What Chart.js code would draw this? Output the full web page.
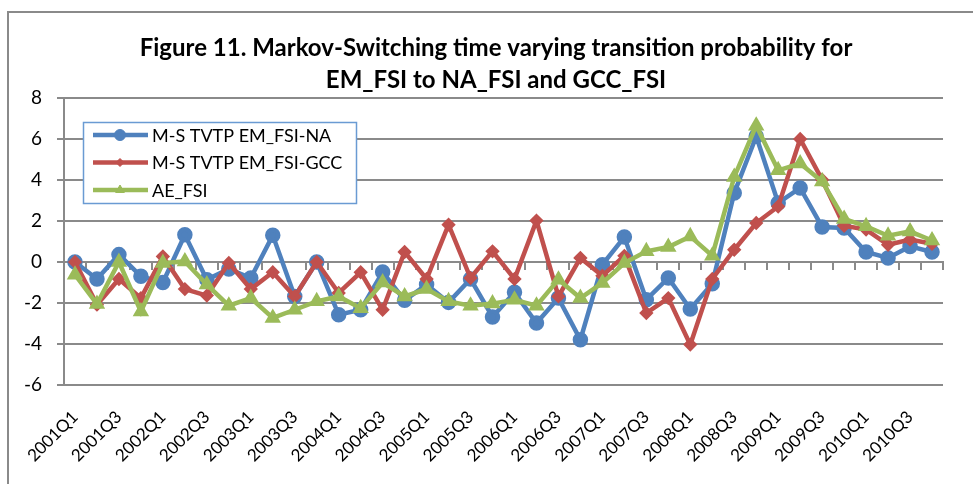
<!DOCTYPE html>
<html>
<head>
<meta charset="utf-8">
<script src="https://cdn.jsdelivr.net/npm/chart.js@4"></script>
<style>
  html, body { margin: 0; padding: 0; background: #fff; overflow: hidden; }
  #wrap { position: relative; width: 973px; height: 484px; overflow: hidden; }
  #frame { position: absolute; left: 7px; top: 11px; width: 1000px; height: 500px; border: 2px solid #8a8a8a; box-sizing: border-box; }
  canvas { position: absolute; left: 0; top: 0; }
</style>
</head>
<body>
<div id="wrap">
  <div id="frame"></div>
  <canvas id="chart" width="973" height="484"></canvas>
</div>
<script>
const quarters = [
  '2001Q1', '2001Q2', '2001Q3', '2001Q4', '2002Q1', '2002Q2', '2002Q3', '2002Q4',
  '2003Q1', '2003Q2', '2003Q3', '2003Q4', '2004Q1', '2004Q2', '2004Q3', '2004Q4',
  '2005Q1', '2005Q2', '2005Q3', '2005Q4', '2006Q1', '2006Q2', '2006Q3', '2006Q4',
  '2007Q1', '2007Q2', '2007Q3', '2007Q4', '2008Q1', '2008Q2', '2008Q3', '2008Q4',
  '2009Q1', '2009Q2', '2009Q3', '2009Q4', '2010Q1', '2010Q2', '2010Q3', '2010Q4'
];

const emNa = [
  0.0, -0.83, 0.36, -0.7, -1.0, 1.33, -0.86, -0.34, -0.78, 1.3,
  -1.68, 0.0, -2.57, -2.33, -0.49, -1.87, -1.1, -1.97, -0.83, -2.68,
  -1.48, -2.98, -1.76, -3.79, -0.13, 1.22, -1.84, -0.78, -2.29, -1.06,
  3.37, 6.13, 2.88, 3.61, 1.71, 1.66, 0.49, 0.2, 0.76, 0.49
];

const emGcc = [
  0.0, -2.08, -0.83, -1.76, 0.27, -1.32, -1.64, -0.05, -1.32, -0.5,
  -1.68, 0.0, -1.51, -0.5, -2.33, 0.49, -0.83, 1.82, -0.78, 0.52,
  -0.83, 2.02, -1.68, 0.2, -0.67, 0.3, -2.49, -1.76, -4.03, -0.83,
  0.6, 1.9, 2.71, 6.0, 4.01, 1.77, 1.58, 0.84, 1.09, 0.89
];

const aeFsi = [
  -0.62, -2.05, 0.0, -2.41, -0.05, 0.03, -1.1, -2.13, -1.76, -2.73,
  -2.33, -1.92, -1.68, -2.25, -1.0, -1.68, -1.32, -1.92, -2.13, -2.03,
  -1.84, -2.13, -0.86, -1.76, -1.02, -0.05, 0.52, 0.73, 1.25, 0.31,
  4.15, 6.65, 4.47, 4.8, 3.93, 2.1, 1.74, 1.28, 1.49, 1.05
];

const titleLines = ['Figure 11. Markov-Switching time varying transition probability for', 'EM_FSI to NA_FSI and GCC_FSI'];
const yMin = -6, yMax = 8, yStep = 2;
const gridColor = '#8a8a8a';
const font = 'Lato';

// title sits over the whole chart box, which runs past the right edge of the picture
const chartTitle = {
  id: 'chartTitle',
  afterDraw(chart) {
    const ctx = chart.ctx;
    ctx.save();
    ctx.fillStyle = '#000';
    ctx.font = 'bold 24px ' + font;
    ctx.textAlign = 'center';
    ctx.textBaseline = 'middle';
    titleLines.forEach((t, i) => ctx.fillText(t, 496, 48 + i * 32));
    ctx.restore();
  }
};

// legend drawn inside the plot, Excel style
const legendBox = {
  id: 'legendBox',
  afterDatasetsDraw(chart) {
    const ctx = chart.ctx;
    ctx.save();
    ctx.fillStyle = '#fff';
    ctx.fillRect(83, 122, 274, 82);
    ctx.strokeStyle = '#6a9bd3';
    ctx.lineWidth = 1.5;
    ctx.strokeRect(83.5, 122.5, 273, 81);
    chart.data.datasets.forEach((ds, i) => {
      const y = 135 + i * 27.5;
      ctx.strokeStyle = ds.borderColor;
      ctx.lineWidth = ds.borderWidth;
      ctx.beginPath();
      ctx.moveTo(93, y);
      ctx.lineTo(148, y);
      ctx.stroke();
      ctx.fillStyle = ds.backgroundColor;
      ctx.lineWidth = 1;
      Chart.helpers.drawPoint(ctx, { pointStyle: ds.pointStyle, radius: ds.pointRadius, rotation: 0, borderWidth: 1 }, 120, y);
      ctx.fillStyle = '#000';
      ctx.font = '18px ' + font;
      ctx.textBaseline = 'middle';
      ctx.textAlign = 'left';
      ctx.fillText(ds.label, 152, y + 1);
    });
    ctx.restore();
  }
};

new Chart(document.getElementById('chart'), {
  type: 'line',
  data: {
    labels: quarters,
    datasets: [
      { label: 'M-S TVTP EM_FSI-NA', data: emNa, borderColor: '#4F81BD', backgroundColor: '#4F81BD',
        borderWidth: 4.5, pointStyle: 'circle', pointRadius: 5.5, order: 3 },
      { label: 'M-S TVTP EM_FSI-GCC', data: emGcc, borderColor: '#C0504D', backgroundColor: '#C0504D',
        borderWidth: 4.5, pointStyle: 'rectRot', pointRadius: 4, order: 2 },
      { label: 'AE_FSI', data: aeFsi, borderColor: '#9BBB59', backgroundColor: '#9BBB59',
        borderWidth: 4.5, pointStyle: 'triangle', pointRadius: 5, order: 1 }
    ]
  },
  options: {
    responsive: false,
    animation: false,
    layout: { padding: { left: 0, right: 30, top: 98, bottom: 0 } },
    elements: { line: { tension: 0 } },
    plugins: {
      legend: { display: false },
      tooltip: { enabled: false },
      title: { display: false }
    },
    scales: {
      x: {
        type: 'category',
        offset: true,
        grid: { display: false, drawTicks: false },
        border: { display: false },
        afterFit: s => { s.height = 99; },
        ticks: {
          autoSkip: false,
          minRotation: 45,
          maxRotation: 45,
          padding: 22,
          color: '#000',
          font: { family: font, size: 17 },
          callback: (v, i) => (i % 2 ? '' : quarters[i])
        }
      },
      x0: {
        axis: 'x',
        type: 'category',
        position: { y: 0 },
        offset: true,
        grid: { offset: true, drawOnChartArea: false, drawTicks: true, tickLength: 7, color: gridColor, lineWidth: 2 },
        border: { display: true, color: gridColor, width: 2 },
        ticks: { display: false }
      },
      y: {
        min: yMin,
        max: yMax,
        afterFit: s => { s.width = 64; },
        grid: { color: gridColor, lineWidth: 2, tickLength: 7 },
        border: { color: gridColor, width: 2 },
        ticks: {
          stepSize: yStep,
          padding: 15,
          color: '#000',
          font: { family: font, size: 19 }
        }
      }
    }
  },
  plugins: [legendBox, chartTitle]
});
</script>
</body>
</html>
